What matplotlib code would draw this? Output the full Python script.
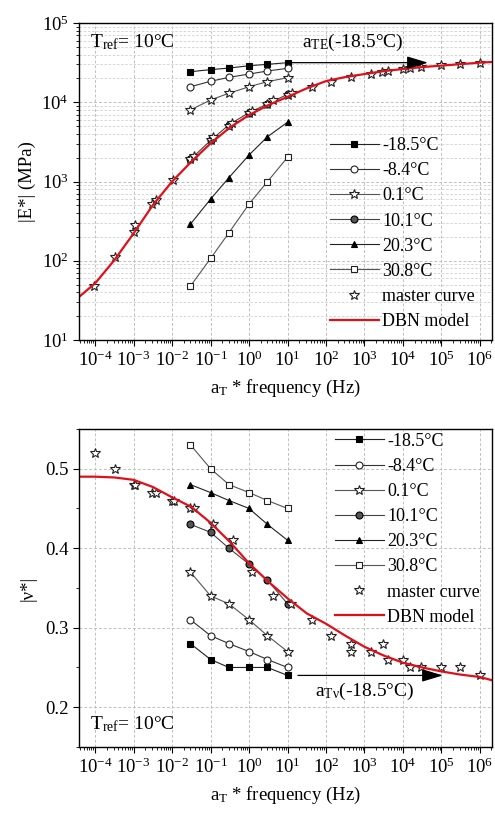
import matplotlib
matplotlib.use('Agg')
import matplotlib.pyplot as plt
from matplotlib.ticker import LogLocator, MultipleLocator, NullFormatter
import numpy as np

plt.rcParams.update({
    'font.family': 'Liberation Serif',
    'mathtext.fontset': 'custom',
    'mathtext.rm': 'Liberation Serif',
    'mathtext.it': 'Liberation Serif:italic',
    'font.size': 13,
})

# reduced frequency of the measured points (Hz)
freq = [0.03, 0.1, 0.3, 1, 3, 10]
temps = ['-18.5°C', '-8.4°C', '0.1°C', '10.1°C', '20.3°C', '30.8°C']

# |E*| (MPa) per test temperature
E_m185 = [24300, 25800, 27000, 28900, 30100, 31600]
E_m84 = [15700, 18400, 20600, 22700, 24800, 26800]
E_01 = [8000, 10700, 13000, 15700, 18200, 20400]
E_101 = [1900, 3300, 5200, 7400, 9500, 12600]
E_203 = [290, 600, 1120, 2160, 3670, 5600]
E_308 = [48, 107, 226, 520, 995, 2020]

# |nu*| per test temperature
v_m185 = [0.28, 0.26, 0.25, 0.25, 0.25, 0.24]
v_m84 = [0.31, 0.29, 0.28, 0.27, 0.26, 0.25]
v_01 = [0.37, 0.34, 0.33, 0.31, 0.29, 0.27]
v_101 = [0.43, 0.42, 0.40, 0.38, 0.36, 0.33]
v_203 = [0.48, 0.47, 0.46, 0.45, 0.43, 0.41]
v_308 = [0.53, 0.50, 0.48, 0.47, 0.46, 0.45]

# master curve points
mx_E = [9.6e-5, 3.2e-4, 1.0e-3, 1.1e-3, 3.0e-3, 3.8e-3, 0.0105, 0.03, 0.036, 0.1, 0.118,
        0.3, 0.355, 1, 1.17, 3, 4.1, 10, 12.9, 44, 135, 437, 1480, 2800, 4000, 10200,
        15300, 28600, 1e5, 3e5, 1e6]
my_E = [48, 111, 233, 282, 520, 590, 1045, 1900, 2100, 3300, 3600, 5000, 5500, 7300, 7800,
        9500, 10700, 12500, 13200, 15400, 18200, 20600, 22700, 24300, 25000, 26000, 26800,
        28200, 29500, 30400, 31600]
mx_v = [1e-4, 3.2e-4, 1.0e-3, 1.1e-3, 3.0e-3, 3.8e-3, 0.0098, 0.011, 0.03, 0.037, 0.118,
        0.39, 1.22, 4.3, 12.6, 44, 135, 437, 437, 1480, 2950, 4000, 1e4, 1.5e4, 2.9e4,
        1e5, 3e5, 1e6]
my_v = [0.52, 0.50, 0.48, 0.48, 0.47, 0.47, 0.46, 0.46, 0.45, 0.45, 0.43, 0.41, 0.37, 0.34,
        0.33, 0.31, 0.29, 0.28, 0.27, 0.27, 0.28, 0.26, 0.26, 0.25, 0.25, 0.25, 0.25, 0.24]

# DBN model curves
dbn_x = [10**-4.42, 1e-4, 10**-3.5, 1e-3, 10**-2.5, 1e-2, 10**-1.5, 1e-1, 10**-0.5, 1,
         10**0.5, 10, 10**1.5, 100, 10**2.5, 1e3, 10**3.5, 1e4, 10**4.5, 1e5, 10**5.5,
         1e6, 10**6.31]
dbn_E = [35, 52, 102, 222, 505, 1000, 1780, 3030, 4800, 6900, 9200, 11700, 15000, 18500,
         20800, 22700, 24700, 26300, 27800, 29000, 30300, 31600, 32200]
dbn_v = [0.490, 0.490, 0.489, 0.486, 0.477, 0.464, 0.452, 0.432, 0.408, 0.381, 0.358, 0.337,
         0.318, 0.305, 0.290, 0.276, 0.265, 0.256, 0.250, 0.245, 0.241, 0.238, 0.234]

styles = [
    dict(marker='s', mfc='black', mec='black', color='#222222'),
    dict(marker='o', mfc='white', mec='#222222', color='#333333'),
    dict(marker='*', mfc='white', mec='#222222', color='#555555', ms=7),
    dict(marker='o', mfc='#555555', mec='black', color='#444444'),
    dict(marker='^', mfc='black', mec='black', color='#222222'),
    dict(marker='s', mfc='white', mec='#222222', color='#555555'),
]

fig = plt.figure(figsize=(4.95, 8.16), dpi=100)
ax1 = fig.add_axes([0.1596, 0.5833, 0.834, 0.3885])
ax2 = fig.add_axes([0.1596, 0.0846, 0.834, 0.3897])


def draw(ax, series, mx, my, dbn):
    for y, lab, st in zip(series, temps, styles):
        kw = dict(ms=5, lw=0.8)
        kw.update(st)
        ax.plot(freq, y, label=lab, mew=0.8, **kw)
    ax.plot(mx, my, ls='none', marker='*', ms=7, mfc='white', mec='#222222', mew=0.8,
            label='master curve')
    ax.plot(dbn_x, dbn, color='#e0101a', lw=1.6, label='DBN model')
    ax.set_xscale('log')
    ax.set_xlim(10**-4.42, 10**6.31)
    ax.xaxis.set_major_locator(LogLocator(base=10, numticks=20))
    ax.xaxis.set_minor_locator(LogLocator(base=10, subs=np.arange(2, 10), numticks=20))
    ax.xaxis.set_minor_formatter(NullFormatter())
    ax.set_xlabel(r'a$_{\rm T}$ * frequency (Hz)', fontsize=13.5, labelpad=6)
    ax.tick_params(which='both', direction='out', top=False, right=False, labelsize=13.5)
    ax.tick_params(which='major', length=4)
    ax.tick_params(which='minor', length=2.5)
    ax.grid(True, which='major', ls=(0, (3, 2)), color='#c0c0c0', lw=0.7)
    for s in ax.spines.values():
        s.set_linewidth(1.0)


draw(ax1, [E_m185, E_m84, E_01, E_101, E_203, E_308], mx_E, my_E, dbn_E)
ax1.set_yscale('log')
ax1.set_ylim(10, 1e5)
ax1.yaxis.set_minor_locator(LogLocator(base=10, subs=np.arange(2, 10), numticks=20))
ax1.yaxis.set_minor_formatter(NullFormatter())
ax1.grid(True, which='minor', axis='y', ls=(0, (3, 2)), color='#d0d0d0', lw=0.6)
ax1.set_ylabel('|E*| (MPa)', fontsize=13.5, labelpad=4)
ax1.text(10**-4.13, 10**4.76, r'T$_{\rm ref}$= 10°C', fontsize=14, va='center')
ax1.annotate('', xy=(10**4.65, E_m185[-1]), xytext=(freq[-1], E_m185[-1]),
             arrowprops=dict(arrowstyle='-|>,head_length=1.0,head_width=0.3',
                             color='black', lw=0.9, shrinkA=0, shrinkB=0))
ax1.text(10**1.38, 10**4.76, r'a$_{\rm TE}$(-18.5°C)', fontsize=14, va='center')
ax1.legend(loc='upper left', bbox_to_anchor=(0.608, 0.64), frameon=False, fontsize=13,
           handlelength=2.7, handletextpad=0.2, labelspacing=0.45, borderpad=0,
           borderaxespad=0)

draw(ax2, [v_m185, v_m84, v_01, v_101, v_203, v_308], mx_v, my_v, dbn_v)
ax2.set_ylim(0.15, 0.55)
ax2.yaxis.set_major_locator(MultipleLocator(0.1))
ax2.yaxis.set_minor_locator(MultipleLocator(0.05))
ax2.set_ylabel('|ν*|', fontsize=13.5, labelpad=6)
ax2.text(10**-4.13, 0.179, r'T$_{\rm ref}$= 10°C', fontsize=14, va='center')
ax2.annotate('', xy=(10**5.04, v_m185[-1]), xytext=(10**1.27, v_m185[-1]),
             arrowprops=dict(arrowstyle='-|>,head_length=1.0,head_width=0.3',
                             color='black', lw=0.9, shrinkA=0, shrinkB=0))
ax2.text(10**1.71, 0.220, r'a$_{\rm T\nu}$(-18.5°C)', fontsize=14, va='center')
ax2.legend(loc='upper left', bbox_to_anchor=(0.62, 0.988), frameon=False, fontsize=13,
           handlelength=2.7, handletextpad=0.2, labelspacing=0.45, borderpad=0,
           borderaxespad=0)

fig.savefig('out.png', dpi=100)
